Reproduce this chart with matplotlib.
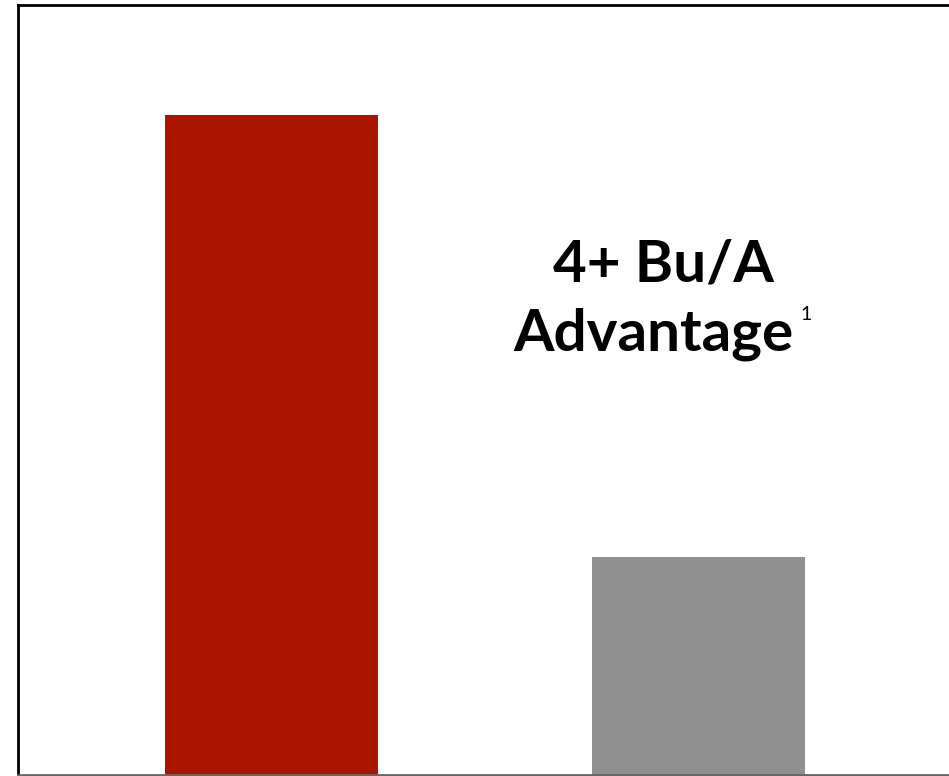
import numpy as np
import matplotlib.pyplot as plt

# two treatments, yield (bu/A)
cats = ["Treated", "Untreated"]
vals = [6.0, 1.98]
colors = ["#aa1500", "#909090"]

fig = plt.figure(figsize=(9.49, 7.76), dpi=100)
ax = fig.add_axes([18/949, 1 - 775/776, (952 - 18)/949, (775 - 5)/776])

x = np.arange(len(cats))
ax.bar(x, vals, width=0.5, color=colors)
ax.set_xlim(-0.594, 1.594)
ax.set_ylim(0, 7)
ax.set_xticks([])
ax.set_yticks([])
for s in ax.spines.values():
    s.set_linewidth(2)
    s.set_color("black")
ax.spines["bottom"].set_color("#666666")

fs = 42
ax.text(0.6906, 0.641, "4+ Bu/A", transform=ax.transAxes, ha="center", va="baseline",
        fontsize=fs, fontweight="bold", family="Lato")
ax.text(0.6799, 0.551, "Advantage", transform=ax.transAxes, ha="center", va="baseline",
        fontsize=fs, fontweight="bold", family="Lato")
ax.text(0.838, 0.591, "1", transform=ax.transAxes, ha="left", va="baseline",
        fontsize=14, family="Lato")

fig.savefig("out.png", dpi=100)
